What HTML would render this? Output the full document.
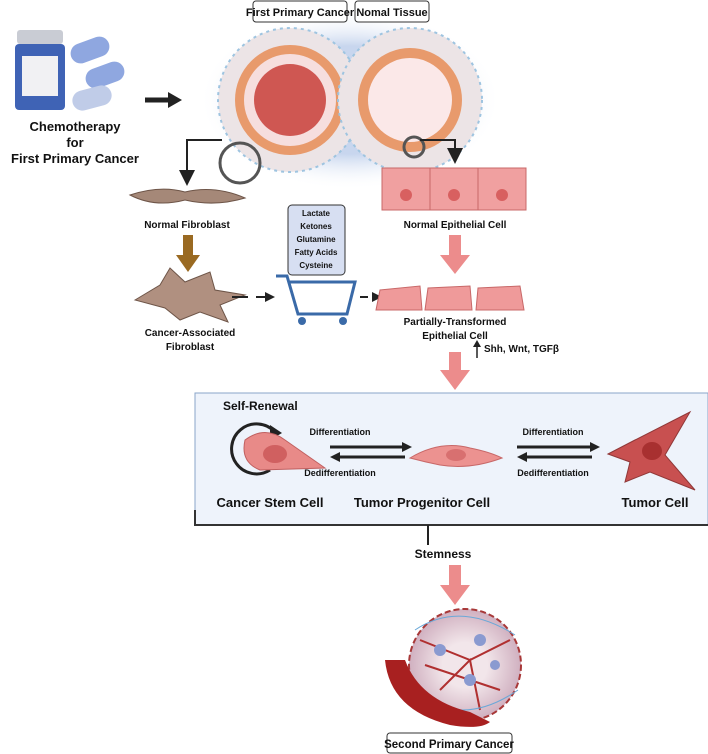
<!DOCTYPE html>
<html><head><meta charset="utf-8"><style>
body{margin:0;background:#fff}
svg{display:block}
text{font-family:"Liberation Sans",Arial,sans-serif;font-weight:bold;fill:#111}
</style></head><body>
<svg width="708" height="754" viewBox="0 0 708 754" xmlns="http://www.w3.org/2000/svg">
<defs>
<radialGradient id="halo"><stop offset="0.6" stop-color="#c8d6ee"/><stop offset="1" stop-color="#fff" stop-opacity="0"/></radialGradient>
<radialGradient id="tum"><stop offset="0.4" stop-color="#f2e6ea"/><stop offset="1" stop-color="#d0b0c0"/></radialGradient>
<marker id="ah" markerWidth="8" markerHeight="8" refX="6" refY="4" orient="auto"><path d="M0,0 L8,4 L0,8 z" fill="#222"/></marker>
</defs>
<!-- halo + tissue circles -->
<ellipse cx="350" cy="100" rx="150" ry="90" fill="url(#halo)"/>
<circle cx="290" cy="100" r="72" fill="#ece4e6" stroke="#9ec4e0" stroke-width="2" stroke-dasharray="3 4"/>
<circle cx="290" cy="100" r="55" fill="#e89a6c"/>
<circle cx="290" cy="100" r="46" fill="#f6dede"/>
<circle cx="290" cy="100" r="36" fill="#c8403a" opacity="0.85"/>
<circle cx="410" cy="100" r="72" fill="#ece4e6" stroke="#9ec4e0" stroke-width="2" stroke-dasharray="3 4"/>
<circle cx="410" cy="100" r="52" fill="#e89a6c"/>
<circle cx="410" cy="100" r="42" fill="#fbe8e8"/>
<!-- top labels -->
<rect x="253" y="1" width="94" height="21" rx="3" fill="#fff" stroke="#333"/>
<text x="300" y="16" font-size="11" text-anchor="middle">First Primary Cancer</text>
<rect x="355" y="1" width="74" height="21" rx="3" fill="#fff" stroke="#333"/>
<text x="392" y="16" font-size="11" text-anchor="middle">Nomal Tissue</text>
<!-- magnifiers -->
<circle cx="240" cy="163" r="20" fill="none" stroke="#555" stroke-width="3"/>
<path d="M222,140 H187 V182" fill="none" stroke="#222" stroke-width="2" marker-end="url(#ah)"/>
<circle cx="414" cy="147" r="10" fill="none" stroke="#555" stroke-width="3"/>
<path d="M420,140 H455 V160" fill="none" stroke="#222" stroke-width="2" marker-end="url(#ah)"/>
<!-- pill bottle -->
<rect x="17" y="30" width="46" height="14" rx="3" fill="#c9ccd4"/>
<rect x="15" y="44" width="50" height="66" rx="4" fill="#3f63b5"/>
<rect x="22" y="56" width="36" height="40" fill="#f1f1f3"/>
<rect x="70" y="40" width="40" height="20" rx="10" fill="#8fa7e0" transform="rotate(-20 90 50)"/>
<rect x="85" y="65" width="40" height="20" rx="10" fill="#8fa7e0" transform="rotate(-20 105 75)"/>
<rect x="72" y="88" width="40" height="20" rx="10" fill="#c0cce8" transform="rotate(-15 92 98)"/>
<path d="M145,100 H170" stroke="#222" stroke-width="5"/><path d="M168,92 L182,100 L168,108 z" fill="#222"/>
<text x="75" y="131" font-size="13" text-anchor="middle">Chemotherapy</text>
<text x="75" y="147" font-size="13" text-anchor="middle">for</text>
<text x="75" y="163" font-size="13" text-anchor="middle">First Primary Cancer</text>
<!-- fibroblasts -->
<path d="M130,195 Q160,185 185,192 Q215,185 245,198 Q215,207 185,200 Q155,208 130,195z" fill="#a58878" stroke="#6e5548"/>
<text x="187" y="228" font-size="10" text-anchor="middle">Normal Fibroblast</text>
<rect x="183" y="235" width="10" height="22" fill="#9a6a22"/><path d="M176,255 L200,255 L188,272 z" fill="#9a6a22"/>
<path d="M135,300 L160,285 L170,268 L185,282 L210,272 L215,290 L245,295 L220,305 L228,322 L200,312 L180,320 L165,308 z" fill="#b09080" stroke="#6e5548"/>
<text x="190" y="336" font-size="10" text-anchor="middle">Cancer-Associated</text>
<text x="190" y="350" font-size="10" text-anchor="middle">Fibroblast</text>
<!-- cart -->
<path d="M232,297 H248 M256,297 H266" stroke="#222" stroke-width="2"/><path d="M265,292 L275,297 L265,302z" fill="#222"/>
<rect x="288" y="205" width="57" height="70" rx="4" fill="#d7dff2" stroke="#333"/>
<text x="316" y="216" font-size="8" text-anchor="middle">Lactate</text>
<text x="316" y="229" font-size="8" text-anchor="middle">Ketones</text>
<text x="316" y="242" font-size="8" text-anchor="middle">Glutamine</text>
<text x="316" y="255" font-size="8" text-anchor="middle">Fatty Acids</text>
<text x="316" y="268" font-size="8" text-anchor="middle">Cysteine</text>
<path d="M276,276 H287 L298,314 H347 L355,282 H290" fill="none" stroke="#3a6aa8" stroke-width="3"/>
<circle cx="302" cy="321" r="4" fill="#3a6aa8"/><circle cx="343" cy="321" r="4" fill="#3a6aa8"/>
<path d="M360,297 H374" stroke="#222" stroke-width="2" stroke-dasharray="8 5"/><path d="M372,292 L382,297 L372,302z" fill="#222"/>
<!-- epithelial -->
<g fill="#f0a0a0" stroke="#c86868">
<rect x="382" y="168" width="48" height="42"/><rect x="430" y="168" width="48" height="42"/><rect x="478" y="168" width="48" height="42"/></g>
<g fill="#d86060"><circle cx="406" cy="195" r="6"/><circle cx="454" cy="195" r="6"/><circle cx="502" cy="195" r="6"/></g>
<text x="455" y="228" font-size="10" text-anchor="middle">Normal Epithelial Cell</text>
<rect x="449" y="235" width="12" height="22" fill="#ec8c8c"/><path d="M440,255 L470,255 L455,274z" fill="#ec8c8c"/>
<g fill="#ef9a9a" stroke="#c86868">
<path d="M376,310 L380,290 L420,286 L422,310z"/><path d="M425,310 L428,288 L470,286 L472,310z"/><path d="M476,310 L478,288 L520,286 L524,310z"/></g>
<text x="455" y="325" font-size="10" text-anchor="middle">Partially-Transformed</text>
<text x="455" y="339" font-size="10" text-anchor="middle">Epithelial Cell</text>
<path d="M477,358 V346" stroke="#222" stroke-width="1.5"/><path d="M473,347 L477,340 L481,347z" fill="#222"/>
<text x="484" y="352" font-size="10">Shh, Wnt, TGFβ</text>
<rect x="449" y="352" width="12" height="20" fill="#ec8c8c"/><path d="M440,370 L470,370 L455,390z" fill="#ec8c8c"/>
<!-- box -->
<rect x="195" y="393" width="513" height="132" fill="#eef3fb" stroke="#8aa6c8"/>
<path d="M195,510 V525 H708" fill="none" stroke="#333" stroke-width="2"/>
<text x="223" y="410" font-size="12">Self-Renewal</text>
<path d="M270,470 A25,25 0 1 1 275,432" fill="none" stroke="#222" stroke-width="3"/><path d="M270,425 L282,433 L270,440z" fill="#222"/>
<path d="M245,440 Q265,425 285,440 L325,468 L260,470 Q240,462 245,440z" fill="#e88a88" stroke="#c06060"/>
<ellipse cx="275" cy="454" rx="12" ry="9" fill="#d06060"/>
<text x="340" y="435" font-size="9" text-anchor="middle">Differentiation</text>
<path d="M330,447 H405" stroke="#222" stroke-width="3"/><path d="M402,442 L412,447 L402,452z" fill="#222"/>
<path d="M338,457 H405" stroke="#222" stroke-width="3"/><path d="M340,452 L330,457 L340,462z" fill="#222"/>
<text x="340" y="476" font-size="9" text-anchor="middle">Dedifferentiation</text>
<path d="M410,458 Q440,440 470,448 Q490,452 502,458 Q470,470 440,465 Q425,462 410,458z" fill="#ec9290" stroke="#c86868"/>
<ellipse cx="456" cy="455" rx="10" ry="6" fill="#d87070"/>
<text x="553" y="435" font-size="9" text-anchor="middle">Differentiation</text>
<path d="M517,447 H592" stroke="#222" stroke-width="3"/><path d="M590,442 L600,447 L590,452z" fill="#222"/>
<path d="M525,457 H592" stroke="#222" stroke-width="3"/><path d="M527,452 L517,457 L527,462z" fill="#222"/>
<text x="553" y="476" font-size="9" text-anchor="middle">Dedifferentiation</text>
<path d="M608,454 L635,440 L690,412 L665,455 L695,490 L650,472 L625,482 L630,462z" fill="#c85050" stroke="#903838"/>
<ellipse cx="652" cy="451" rx="10" ry="9" fill="#a83030"/>
<text x="270" y="507" font-size="13" text-anchor="middle">Cancer Stem  Cell</text>
<text x="422" y="507" font-size="13" text-anchor="middle">Tumor Progenitor  Cell</text>
<text x="655" y="507" font-size="13" text-anchor="middle">Tumor Cell</text>
<path d="M428,525 V545" stroke="#222" stroke-width="2"/>
<text x="443" y="558" font-size="12" text-anchor="middle">Stemness</text>
<rect x="449" y="565" width="12" height="22" fill="#ec8c8c"/><path d="M440,585 L470,585 L455,605z" fill="#ec8c8c"/>
<!-- tumor -->
<circle cx="465" cy="665" r="56" fill="url(#tum)" stroke="#a83838" stroke-width="2" stroke-dasharray="6 3"/>
<g stroke="#b03030" stroke-width="2" fill="none"><path d="M420,640 L470,660 L510,640 M440,690 L470,660 L480,710 M425,665 L500,690"/></g>
<g stroke="#6aa8d8" stroke-width="1" fill="none"><path d="M415,630 Q460,600 515,635 M412,690 Q460,730 518,690"/></g>
<path d="M385,660 Q390,710 450,725 Q480,730 490,722 L470,712 Q420,700 405,660z" fill="#a82020"/>
<circle cx="440" cy="650" r="6" fill="#8a9ad0"/><circle cx="480" cy="640" r="6" fill="#8a9ad0"/><circle cx="470" cy="680" r="6" fill="#8a9ad0"/><circle cx="495" cy="665" r="5" fill="#8a9ad0"/>
<rect x="387" y="733" width="125" height="20" rx="3" fill="#fff" stroke="#333"/>
<text x="449" y="748" font-size="11.5" text-anchor="middle">Second Primary Cancer</text>
</svg>
</body></html>
